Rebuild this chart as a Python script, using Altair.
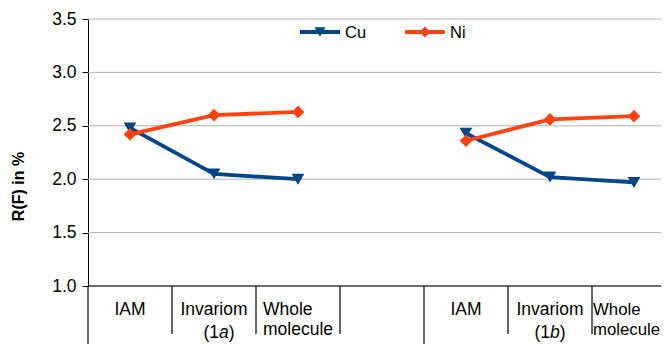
import altair as alt
import pandas as pd

# ---- data ----
categories = ["IAM", "Invariom", "Whole\nmolecule"]
slots_1a = [0, 1, 2]
slots_1b = [4, 5, 6]
cu_1a = [2.48, 2.05, 2.00]
ni_1a = [2.42, 2.60, 2.63]
cu_1b = [2.43, 2.02, 1.97]
ni_1b = [2.36, 2.56, 2.59]
series = ["Cu", "Ni"]
colors = ["#004586", "#ff420e"]
shapes = ["triangle-down", "diamond"]
y_ticks = [1.0, 1.5, 2.0, 2.5, 3.0, 3.5]
short_bounds = [1, 2, 3, 5, 6]
long_bounds = [0, 4]

FONT = "Liberation Sans"
W, H = 573, 267
SLOT_PX = 84
xmax = W / SLOT_PX

rows = []
for grp, slots, cu, ni in [("1a", slots_1a, cu_1a, ni_1a), ("1b", slots_1b, cu_1b, ni_1b)]:
    for s, c, n, cat in zip(slots, cu, ni, categories):
        rows.append({"grp": grp, "slot": s + 0.5, "series": "Cu", "value": c, "cat": cat})
        rows.append({"grp": grp, "slot": s + 0.5, "series": "Ni", "value": n, "cat": cat})
df = pd.DataFrame(rows)

xs = alt.Scale(domain=[0, xmax], nice=False, zero=False)
ys = alt.Scale(domain=[1.0, 3.5], nice=False, zero=False)
cs = alt.Scale(domain=series, range=colors)
ss = alt.Scale(domain=series, range=shapes)

yax = alt.Axis(values=y_ticks, format=".1f", title="R(F) in %", grid=False,
               domainColor="black", tickColor="black", tickSize=6,
               labelFont=FONT, labelFontSize=17.5, labelColor="black", labelPadding=6,
               titleFont=FONT, titleFontSize=16, titleFontWeight="bold",
               titleColor="black", titleX=-70, titleY=167, titleBaseline="middle",
               titleAlign="center", titleAngle=270)


def X(f):
    return alt.X(f, scale=xs, axis=None)


def Y(f):
    return alt.Y(f, scale=ys, axis=yax)


# gridlines (+ y axis)
grid = alt.Chart(pd.DataFrame({"v": y_ticks})).mark_rule(color="#b3b3b3", strokeWidth=1).encode(
    y=Y("v:Q"), x=alt.value(0), x2=alt.value(W),
)

xaxis_line = alt.Chart(pd.DataFrame({"v": [1.0]})).mark_rule(color="black", strokeWidth=1).encode(
    y=Y("v:Q"), x=alt.value(0), x2=alt.value(W))

lines = alt.Chart(df).mark_line(strokeWidth=3.8).encode(
    x=X("slot:Q"), y=Y("value:Q"),
    color=alt.Color("series:N", scale=cs, legend=None),
    detail="grp:N",
)
points = alt.Chart(df).mark_point(filled=True, opacity=1, size=160).encode(
    x=X("slot:Q"), y=Y("value:Q"),
    color=alt.Color("series:N", scale=cs, legend=None),
    shape=alt.Shape("series:N", scale=ss, legend=None),
)

short_r = alt.Chart(pd.DataFrame({"b": short_bounds})).mark_rule(color="black", strokeWidth=1.2).encode(
    x=X("b:Q"), y=alt.value(H), y2=alt.value(H + 48))
long_r = alt.Chart(pd.DataFrame({"b": long_bounds})).mark_rule(color="black", strokeWidth=1.2).encode(
    x=X("b:Q"), y=alt.value(H), y2=alt.value(H + 80))

cat_df = df[df.series == "Cu"].reset_index(drop=True)
txt_kw = dict(font=FONT, color="black", lineBreak="\n", lineHeight=20, baseline="alphabetic")
single = cat_df[~cat_df.cat.str.contains("\n")]
multi_a = cat_df[cat_df.cat.str.contains("\n") & (cat_df.grp == "1a")]
multi_b = cat_df[cat_df.cat.str.contains("\n") & (cat_df.grp == "1b")]
cat_single = alt.Chart(single).mark_text(align="center", fontSize=17.5, **txt_kw).encode(
    x=X("slot:Q"), y=alt.value(H + 29), text="cat:N")
cat_multi_a = alt.Chart(multi_a).mark_text(align="left", dx=-35, fontSize=17.5, **txt_kw).encode(
    x=X("slot:Q"), y=alt.value(H + 29), text="cat:N")
cat_multi_b = alt.Chart(multi_b).mark_text(align="left", dx=-41, fontSize=16.8, **txt_kw).encode(
    x=X("slot:Q"), y=alt.value(H + 29), text="cat:N")

grp_parts = []
for slot, letter, dx in [(slots_1a[1], "a", 5), (slots_1b[1], "b", 0)]:
    d = pd.DataFrame({"slot": [slot + 0.5], "p1": ["(1"], "p2": [letter], "p3": [")"]})
    kw = dict(font=FONT, fontSize=17.5, color="black", baseline="alphabetic")
    grp_parts.append(alt.Chart(d).mark_text(align="right", dx=dx, **kw).encode(
        x=X("slot:Q"), y=alt.value(H + 52), text="p1:N"))
    grp_parts.append(alt.Chart(d).mark_text(align="left", dx=dx, fontStyle="italic", **kw).encode(
        x=X("slot:Q"), y=alt.value(H + 52), text="p2:N"))
    grp_parts.append(alt.Chart(d).mark_text(align="left", dx=dx + 9.8, **kw).encode(
        x=X("slot:Q"), y=alt.value(H + 52), text="p3:N"))

# legend
leg = []
for i, s in enumerate(series):
    x0 = 212 + i * 105
    d = pd.DataFrame({"series": [s]})
    leg.append(alt.Chart(d).mark_rule(strokeWidth=3.8).encode(
        x=alt.value(x0), x2=alt.value(x0 + 40), y=alt.value(13),
        color=alt.Color("series:N", scale=cs, legend=None)))
    leg.append(alt.Chart(d).mark_point(filled=True, opacity=1, size=120).encode(
        x=alt.value(x0 + 20), y=alt.value(13),
        color=alt.Color("series:N", scale=cs, legend=None),
        shape=alt.Shape("series:N", scale=ss, legend=None)))
    leg.append(alt.Chart(d).mark_text(font=FONT, fontSize=16.5, color="black", align="left",
                                      baseline="middle").encode(
        x=alt.value(x0 + 45), y=alt.value(14), text="series:N"))

chart = alt.layer(grid, xaxis_line, short_r, long_r, lines, points,
                  cat_single, cat_multi_a, cat_multi_b, *grp_parts, *leg).properties(
    width=W, height=H,
    padding={"left": 80, "top": 11, "right": 0, "bottom": 58},
    autosize=alt.AutoSizeParams(type="none"),
).configure_view(stroke=None)

chart.save("out.html", embed_options={"renderer": "svg", "actions": False})
